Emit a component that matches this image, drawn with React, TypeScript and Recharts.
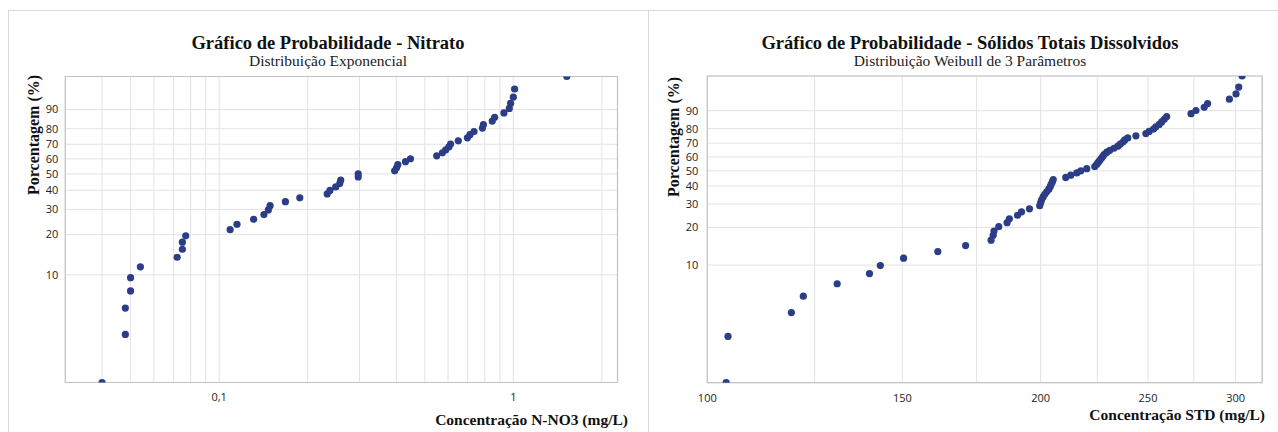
import {
  ScatterChart,
  Scatter,
  XAxis,
  YAxis,
  CartesianGrid,
  ReferenceArea,
} from "recharts";

// Nitrato (mg/L), sorted, with plotted percentage
const NITRATO_MGL = [
  0.04, 0.048, 0.048, 0.05, 0.05, 0.054, 0.072, 0.075, 0.075, 0.077,
  0.109, 0.115, 0.131, 0.142, 0.147, 0.149, 0.168, 0.188, 0.233, 0.238,
  0.249, 0.257, 0.259, 0.297, 0.297, 0.395, 0.401, 0.405, 0.43, 0.447,
  0.549, 0.574, 0.589, 0.604, 0.612, 0.65, 0.698, 0.712, 0.735, 0.785,
  0.791, 0.848, 0.864, 0.929, 0.969, 0.979, 1.0, 1.01, 1.52,
];
const NITRATO_PCT = [
  1.4, 3.4, 5.5, 7.5, 9.5, 11.5, 13.6, 15.6, 17.6, 19.6,
  21.7, 23.7, 25.7, 27.7, 29.8, 31.8, 33.8, 35.8, 37.9, 39.9,
  41.9, 43.9, 46.0, 48.0, 50.0, 52.0, 54.0, 56.1, 58.1, 60.1,
  62.1, 64.2, 66.2, 68.2, 70.2, 72.3, 74.3, 76.3, 78.3, 80.4,
  82.4, 84.4, 86.4, 88.5, 90.5, 92.5, 94.5, 96.6, 98.6,
];

// Sólidos totais dissolvidos (mg/L)
const STD_MGL = [
  104.0, 104.4, 119.1, 122.1, 131.0, 140.1, 143.3, 150.4, 161.5, 171.1,
  180.4, 181.2, 181.5, 183.3, 186.5, 187.4, 190.6, 192.2, 195.4, 199.6,
  200.0, 200.4, 201.0, 201.7, 202.5, 203.4, 204.0, 204.4, 204.9, 205.3,
  210.7, 212.9, 215.6, 217.4, 220.1, 223.8, 224.7, 225.4, 226.1, 226.9,
  227.6, 228.3, 229.5, 230.9, 232.9, 234.8, 236.0, 237.3, 238.2, 239.7,
  243.8, 248.9, 250.6, 252.9, 254.1, 255.9, 257.2, 258.6, 259.9, 273.4,
  276.2, 281.0, 283.0, 296.1, 300.2, 301.9, 304.0,
];
const STD_PCT = [
  1.0, 2.5, 4.0, 5.5, 7.0, 8.5, 9.9, 11.4, 12.9, 14.4,
  15.9, 17.4, 18.8, 20.3, 21.8, 23.3, 24.8, 26.3, 27.7, 29.2,
  30.7, 32.2, 33.7, 35.2, 36.6, 38.1, 39.6, 41.1, 42.6, 44.1,
  45.5, 47.0, 48.5, 50.0, 51.5, 53.0, 54.5, 55.9, 57.4, 58.9,
  60.4, 61.9, 63.4, 64.8, 66.3, 67.8, 69.3, 70.8, 72.3, 73.7,
  75.2, 76.7, 78.2, 79.7, 81.2, 82.6, 84.1, 85.6, 87.1, 88.6,
  90.1, 91.5, 93.0, 94.5, 96.0, 97.5, 99.0,
];

const PCT_TICKS = [10, 20, 30, 40, 50, 60, 70, 80, 90];
const NITRATO_TICKS = [
  0.04, 0.05, 0.06, 0.07, 0.08, 0.09, 0.1, 0.2, 0.3, 0.4, 0.5, 0.6, 0.7,
  0.8, 0.9, 1, 2,
];
const NITRATO_TICK_LABELS: Record<string, string> = { "0.1": "0,1", "1": "1" };
const STD_TICKS = [100, 125, 150, 175, 200, 225, 250, 275, 300];
const STD_TICK_LABELS = [100, 150, 200, 250, 300];

const DOT = "#2c3d87";
const SERIF = "'Liberation Serif', 'Times New Roman', serif";
const SANS = "'Open Sans', 'Noto Sans', sans-serif";

// probability paper: ln(-ln(1-p))
const toT = (p: number) => Math.log(-Math.log(1 - p / 100));
const fromT = (t: number) => Math.round(100 * (1 - Math.exp(-Math.exp(t))));

const Dot = (props: any) => (
  <circle cx={props.cx} cy={props.cy} r={3.6} fill={DOT} />
);

function ProbPlot({
  xs,
  ps,
  xDomain,
  xTicks,
  xFormat,
  width,
  margin,
  yAxisWidth,
  xAxisHeight,
  yTickGap,
}: {
  xs: number[];
  ps: number[];
  xDomain: [number, number];
  xTicks: number[];
  xFormat: (v: number) => string;
  width: number;
  margin: { top: number; right: number; bottom: number; left: number };
  yAxisWidth: number;
  xAxisHeight: number;
  yTickGap: number;
}) {
  const data = xs.map((x, i) => ({ x, y: toT(ps[i]) }));
  const yMin = Math.min(...data.map((d) => d.y));
  const yMax = Math.max(...data.map((d) => d.y));
  const tick = { fontFamily: SANS, fontSize: 11, fill: "#222" };

  return (
    <ScatterChart width={width} height={432} margin={margin}>
      <CartesianGrid stroke="#e3e3e3" />
      <XAxis
        dataKey="x"
        type="number"
        scale="log"
        domain={xDomain}
        allowDataOverflow
        ticks={xTicks}
        interval={0}
        tickFormatter={xFormat}
        height={xAxisHeight}
        axisLine={false}
        tickLine={false}
        tickSize={0}
        tickMargin={11}
        tick={tick}
      />
      <YAxis
        dataKey="y"
        type="number"
        domain={[yMin, yMax]}
        allowDataOverflow
        ticks={PCT_TICKS.map(toT)}
        interval={0}
        tickFormatter={(v: number) => String(fromT(v))}
        width={yAxisWidth}
        axisLine={false}
        tickLine={false}
        tickSize={0}
        tickMargin={yTickGap}
        tick={tick}
      />
      <ReferenceArea
        x1={xDomain[0]}
        x2={xDomain[1]}
        y1={yMin}
        y2={yMax}
        fill="none"
        stroke="#c2c2c2"
        strokeWidth={1.2}
        ifOverflow="visible"
      />
      <Scatter data={data} shape={Dot} isAnimationActive={false} />
    </ScatterChart>
  );
}

export default function App() {
  const title = { fontFamily: SERIF, fontWeight: 700, fill: "#111" } as const;
  const sub = { fontFamily: SERIF, fill: "#222" } as const;

  return (
    <div
      style={{
        position: "fixed",
        left: 0,
        top: 0,
        width: 1278,
        height: 432,
        overflow: "hidden",
        background: "#fff",
      }}
    >
      {/* outer frame with divider between the two graphs */}
      <div
        style={{
          position: "absolute",
          left: 8,
          top: 10,
          width: 1300,
          height: 450,
          border: "1px solid #d9d9d9",
          boxSizing: "border-box",
        }}
      />
      <div
        style={{
          position: "absolute",
          left: 648,
          top: 10,
          width: 1,
          height: 430,
          background: "#d9d9d9",
        }}
      />

      <div style={{ position: "absolute", left: 0, top: 0 }}>
        <ProbPlot
          xs={NITRATO_MGL}
          ps={NITRATO_PCT}
          xDomain={[0.03, 2.26]}
          xTicks={NITRATO_TICKS}
          xFormat={(v) => NITRATO_TICK_LABELS[String(v)] ?? ""}
          width={640}
          margin={{ top: 76.5, right: 22.5, bottom: 0, left: 0 }}
          yAxisWidth={65.3}
          xAxisHeight={49.5}
          yTickGap={7}
        />
      </div>
      <div style={{ position: "absolute", left: 640, top: 0 }}>
        <ProbPlot
          xs={STD_MGL}
          ps={STD_PCT}
          xDomain={[100, 317]}
          xTicks={STD_TICKS}
          xFormat={(v) => (STD_TICK_LABELS.includes(v) ? String(v) : "")}
          width={638}
          margin={{ top: 76, right: 15.8, bottom: 0, left: 0 }}
          yAxisWidth={67.3}
          xAxisHeight={49.3}
          yTickGap={9}
        />
      </div>

      {/* titles and axis labels */}
      <svg
        width={1278}
        height={432}
        style={{ position: "absolute", left: 0, top: 0, pointerEvents: "none" }}
      >
        <text x={328} y={49} textAnchor="middle" fontSize={18.5} {...title}>
          Gráfico de Probabilidade - Nitrato
        </text>
        <text x={328} y={66} textAnchor="middle" fontSize={15.5} {...sub}>
          Distribuição Exponencial
        </text>
        <text x={970} y={49} textAnchor="middle" fontSize={18.5} {...title}>
          Gráfico de Probabilidade - Sólidos Totais Dissolvidos
        </text>
        <text x={970} y={66} textAnchor="middle" fontSize={15.5} {...sub}>
          Distribuição Weibull de 3 Parâmetros
        </text>
        <text
          transform="translate(38.5,135) rotate(-90)"
          textAnchor="middle"
          fontSize={16}
          {...title}
        >
          Porcentagem (%)
        </text>
        <text
          transform="translate(679,137) rotate(-90)"
          textAnchor="middle"
          fontSize={16}
          {...title}
        >
          Porcentagem (%)
        </text>
        <text x={628} y={425} textAnchor="end" fontSize={15.5} {...title}>
          Concentração N-NO3 (mg/L)
        </text>
        <text x={1265} y={420} textAnchor="end" fontSize={15.5} {...title}>
          Concentração STD (mg/L)
        </text>
      </svg>
    </div>
  );
}
